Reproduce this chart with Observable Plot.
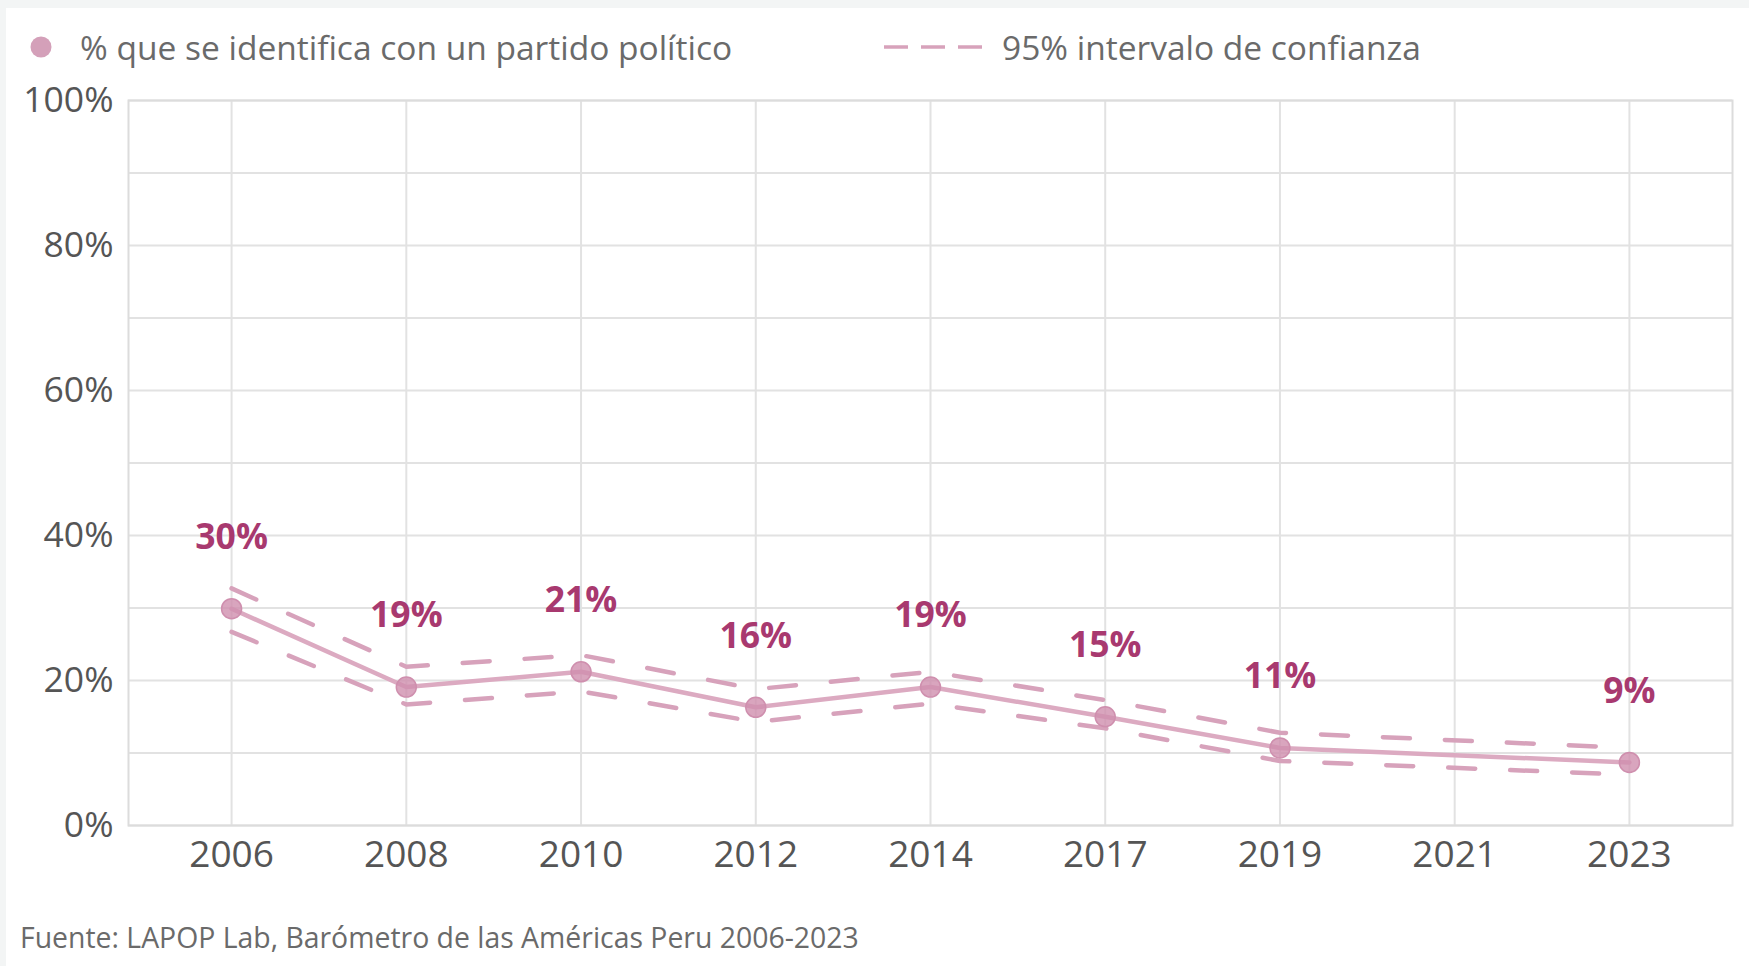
<!DOCTYPE html>
<html>
<head>
<meta charset="utf-8">
<script src="https://cdn.jsdelivr.net/npm/d3@7"></script>
<script src="https://cdn.jsdelivr.net/npm/@observablehq/plot@0.6"></script>
<style>
  html, body { margin: 0; padding: 0; background: #f3f5f5; }
  body { width: 1749px; height: 966px; position: relative; overflow: hidden; font-family: "Open Sans", sans-serif; }
  #card { position: absolute; left: 6px; top: 8px; right: 0; bottom: 0; background: #fff; }
  #legend { position: absolute; left: 0; top: 24px; height: 46px; width: 1749px; color: #6a6a6a; font-size: 33.5px; }
  .item { position: absolute; top: 0; height: 46px; display: flex; align-items: center; white-space: nowrap; }
  #chart { position: absolute; left: 0; top: 58px; }
  #caption { position: absolute; left: 20px; top: 918px; font-size: 28.4px; color: #6a6a6a; white-space: nowrap; line-height: 38px; }
</style>
</head>
<body>
<div id="card"></div>
<div id="legend"></div>
<div id="chart"></div>
<div id="caption"></div>
<script>
// ---- data ----
const years  = ["2006", "2008", "2010", "2012", "2014", "2017", "2019", "2021", "2023"];
const values = [29.9, 19.1, 21.2, 16.3, 19.1, 15.0, 10.7, null, 8.7];
const upper  = [32.7, 21.9, 23.5, 18.8, 21.2, 17.3, 12.8, null, 10.7];
const lower  = [26.7, 16.7, 18.5, 14.3, 16.8, 13.4, 8.9, null, 7.0];
const labels = ["30%", "19%", "21%", "16%", "19%", "15%", "11%", null, "9%"];
const yTicks = [0, 20, 40, 60, 80, 100];
const yGrid  = [0, 10, 20, 30, 40, 50, 60, 70, 80, 90, 100];
const legendItems = ["% que se identifica con un partido político", "95% intervalo de confianza"];
const captionText = "Fuente: LAPOP Lab, Barómetro de las Américas Peru 2006-2023";

const rows = years.map((y, i) => ({year: y, value: values[i], upper: upper[i], lower: lower[i], label: labels[i]}))
  .filter(d => d.value != null);

const pointColor = "#cf8fae";
const lineColor = "#dcaac1";
const ciColor = "#d7a2bb";
const labelColor = "#a8396f";

const chart = Plot.plot({
  width: 1749,
  height: 827,
  marginLeft: 128,
  marginRight: 17,
  marginTop: 42,
  marginBottom: 60,
  style: {fontFamily: "Open Sans, sans-serif", background: "transparent", color: "#555"},
  x: {type: "point", domain: years, padding: 0.59, round: false, label: null},
  y: {domain: [0, 100], label: null},
  marks: [
    Plot.gridY(yGrid, {stroke: "#e2e2e2", strokeOpacity: 1, strokeWidth: 2}),
    Plot.gridX(years, {stroke: "#e2e2e2", strokeOpacity: 1, strokeWidth: 2}),
    Plot.frame({stroke: "#dcdcdc", strokeWidth: 2}),
    Plot.axisY(yTicks, {tickSize: 0, tickPadding: 15, fontSize: 35.5, fill: "#555", label: null, tickFormat: d => d + "%"}),
    Plot.axisX(years, {tickSize: 0, tickPadding: 15, fontSize: 37, fill: "#555", label: null}),
    Plot.line(rows, {x: "year", y: "upper", stroke: ciColor, strokeWidth: 4.5, strokeDasharray: "27,35"}),
    Plot.line(rows, {x: "year", y: "lower", stroke: ciColor, strokeWidth: 4.5, strokeDasharray: "27,35"}),
    Plot.line(rows, {x: "year", y: "value", stroke: lineColor, strokeWidth: 4.5}),
    Plot.dot(rows, {x: "year", y: "value", r: 10, fill: pointColor, fillOpacity: 0.8, stroke: pointColor, strokeWidth: 1.5}),
    Plot.text(rows, {x: "year", y: "value", text: "label", dy: -71, fill: labelColor, fontSize: 35.5, fontWeight: "bold"})
  ]
});
document.getElementById("chart").appendChild(chart);

// legend
const legend = document.getElementById("legend");
const it1 = document.createElement("div");
it1.className = "item";
it1.style.left = "30px";
it1.innerHTML = `<svg width="22" height="22" style="margin-right:28px"><circle cx="11" cy="11" r="10.5" fill="#d4a0b9"></circle></svg><span>${legendItems[0]}</span>`;
legend.appendChild(it1);
const it2 = document.createElement("div");
it2.className = "item";
it2.style.left = "884px";
it2.innerHTML = `<svg width="100" height="10" style="margin-right:18px"><line x1="0" x2="98" y1="5" y2="5" stroke="#d7a2bb" stroke-width="3.5" stroke-dasharray="24,13"></line></svg><span>${legendItems[1]}</span>`;
legend.appendChild(it2);

document.getElementById("caption").textContent = captionText;
</script>
</body>
</html>
